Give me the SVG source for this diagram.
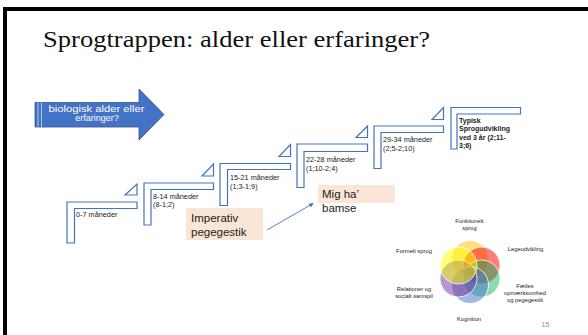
<svg xmlns="http://www.w3.org/2000/svg" width="588" height="335" viewBox="0 0 588 335">
<defs>
<style>
.step{fill:#fff;stroke:#4472c4;stroke-width:1.2}
.tri{fill:#fff;stroke:#4472c4;stroke-width:1.2}
.lbl{font-family:"Liberation Sans",Arial,sans-serif;font-size:7.3px;fill:#222}
.lblb{font-family:"Liberation Sans",Arial,sans-serif;font-size:7px;fill:#222;font-weight:bold}
.box{fill:#fbe5d6}
.boxt{font-family:"Liberation Sans",Arial,sans-serif;font-size:11.5px;fill:#222}
.vt{font-family:"Liberation Sans",Arial,sans-serif;font-size:5.8px;fill:#222;text-anchor:middle}
.vc{stroke:#fff;stroke-width:0.8}
</style>
<marker id="ah" viewBox="0 0 6 6" refX="5" refY="3" markerWidth="5" markerHeight="5" orient="auto">
<path d="M0,0 L6,3 L0,6 z" fill="#4472c4"/>
</marker>
</defs>
<rect width="588" height="335" fill="#fff"/>
<path d="M5,335 V9 H588" fill="none" stroke="#000" stroke-width="4"/>
<text x="43" y="47" font-family="Liberation Serif,'Times New Roman',serif" font-size="24" textLength="387" lengthAdjust="spacingAndGlyphs" fill="#111">Sprogtrappen: alder eller erfaringer?</text>

<g id="arrow">
<path d="M35,102.5 H139 V89 L164,114.5 L139,140 V127 H35 Z" fill="#4472c4" stroke="#2f5597" stroke-width="0.8"/>
<line x1="38" y1="102.5" x2="38" y2="127" stroke="#d0dcf0" stroke-width="0.8"/>
<line x1="41.5" y1="102.5" x2="41.5" y2="127" stroke="#d0dcf0" stroke-width="0.8"/>
<text x="48.5" y="112" font-family="Liberation Sans,Arial,sans-serif" font-size="9" fill="#fff" textLength="96" lengthAdjust="spacingAndGlyphs">biologisk alder eller</text>
<text x="97" y="120.5" font-family="Liberation Sans,Arial,sans-serif" font-size="9" fill="#fff" text-anchor="middle">erfaringer?</text>
</g>

<g id="step1">
<path class="step" d="M67,202 H137 V208.5 H74.5 V243 H67 Z"/>
<path class="tri" d="M125,195 H137 V184 Z"/>
<text class="lbl" x="76" y="216.5">0-7 måneder</text>
</g>
<g id="step2">
<path class="step" d="M144,183 H213.5 V189.5 H151 V225 H144 Z"/>
<path class="tri" d="M202,176 H213.5 V164 Z"/>
<text class="lbl" x="153" y="198.5">8-14 måneder</text>
<text class="lbl" x="153" y="207">(8-1;2)</text>
</g>
<g id="step3">
<path class="step" d="M220,163.5 H290.5 V169.5 H227.5 V205.5 H220 Z"/>
<path class="tri" d="M279,156.5 H290.5 V144.5 Z"/>
<text class="lbl" x="230" y="179.5">15-21 måneder</text>
<text class="lbl" x="230" y="188.5">(1;3-1;9)</text>
</g>
<g id="step4">
<path class="step" d="M297,144 H367.5 V151.5 H304 V187.5 H297 Z"/>
<path class="tri" d="M356,137.5 H367.5 V126 Z"/>
<text class="lbl" x="306" y="161.5">22-28 måneder</text>
<text class="lbl" x="306" y="170.5">(1;10-2;4)</text>
</g>
<g id="step5">
<path class="step" d="M374,126 H443.5 V132.5 H381 V168.5 H374 Z"/>
<path class="tri" d="M432,119.5 H443.5 V107.5 Z"/>
<text class="lbl" x="383" y="141.5">29-34 måneder</text>
<text class="lbl" x="383" y="150.5">(2;5-2;10)</text>
</g>
<g id="step6">
<path class="step" d="M451,107.5 H520.5 V114 H457 V149 H451 Z"/>
<text class="lblb" x="459" y="122.5">Typisk</text>
<text class="lblb" x="459" y="131">Sprogudvikling</text>
<text class="lblb" x="459" y="139.5">ved 3 år (2;11-</text>
<text class="lblb" x="459" y="148">3;6)</text>
</g>

<g id="imperativ">
<rect class="box" x="186" y="208" width="77" height="32"/>
<text class="boxt" x="191" y="222">Imperativ</text>
<text class="boxt" x="191" y="235.5">pegegestik</text>
</g>
<g id="mig">
<rect class="box" x="318" y="185" width="77" height="18"/>
<text class="boxt" x="322" y="198">Mig ha’</text>
<text class="boxt" x="322" y="212">bamse</text>
</g>

<g id="connectors">
<line x1="267" y1="230" x2="313" y2="203.5" stroke="#4472c4" stroke-width="0.9" marker-end="url(#ah)"/>
</g>

<g id="venn">
<circle class="vc" cx="470" cy="259" r="18.5" fill="#ffc000" fill-opacity="0.5"/>
<circle class="vc" cx="481.5" cy="265.5" r="18.5" fill="#ff0000" fill-opacity="0.5"/>
<circle class="vc" cx="481.5" cy="278.5" r="18.5" fill="#00b050" fill-opacity="0.45"/>
<circle class="vc" cx="470" cy="285" r="18.5" fill="#4472c4" fill-opacity="0.5"/>
<circle class="vc" cx="458.5" cy="278.5" r="18.5" fill="#7030a0" fill-opacity="0.5"/>
<circle class="vc" cx="458.5" cy="265.5" r="18.5" fill="#ffff00" fill-opacity="0.5"/>
<text class="vt" x="469.5" y="222.5">Funktionelt</text>
<text class="vt" x="469.5" y="229.5">sprog</text>
<text class="vt" x="525.5" y="251">Legeudvikling</text>
<text class="vt" x="525" y="287.5">Fælles</text>
<text class="vt" x="525" y="294.5">opmærksomhed</text>
<text class="vt" x="525" y="301.5">og pegegestik</text>
<text class="vt" x="469" y="321">Kognition</text>
<text class="vt" x="414" y="291">Relationer og</text>
<text class="vt" x="414" y="297.5">socialt samspil</text>
<text class="vt" x="414" y="252.5">Formelt sprog</text>
</g>
<text x="545.5" y="326.5" font-family="Liberation Sans,Arial,sans-serif" font-size="7" fill="#8c8c8c" text-anchor="middle">15</text>
</svg>
